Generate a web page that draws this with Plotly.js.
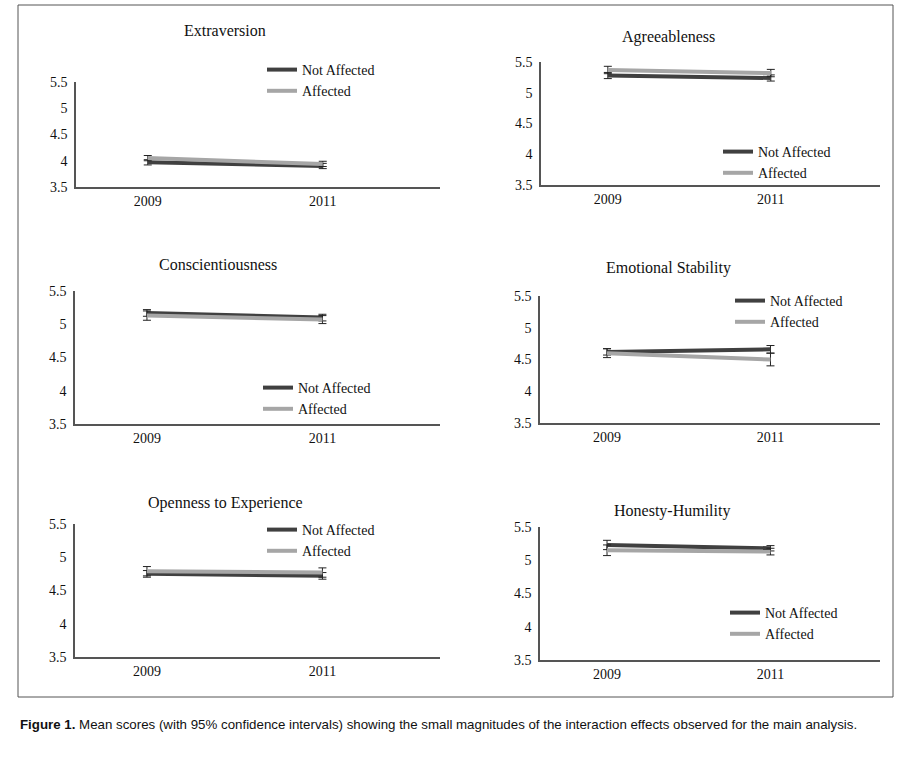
<!DOCTYPE html>
<html><head><meta charset="utf-8">
<script src="https://cdn.plot.ly/plotly-3.0.1.min.js"></script>
<style>body{margin:0;background:#fff}</style>
</head><body>
<div id="myPlot" style="width:903px;height:760px"></div>
<script>
// data
var years = ['2009', '2011']
var traitNames = ['Extraversion', 'Agreeableness', 'Conscientiousness', 'Emotional Stability', 'Openness to Experience', 'Honesty-Humility']
var notAffected = [[3.97, 3.90], [5.28, 5.24], [5.17, 5.10], [4.62, 4.66], [4.75, 4.72], [5.23, 5.18]]
var affected = [[4.05, 3.94], [5.37, 5.32], [5.13, 5.07], [4.60, 4.50], [4.79, 4.77], [5.15, 5.13]]
var ciNotAffected = [[0.05, 0.05], [0.05, 0.05], [0.05, 0.05], [0.05, 0.06], [0.05, 0.05], [0.07, 0.04]]
var ciAffected = [[0.05, 0.05], [0.06, 0.06], [0.07, 0.06], [0.07, 0.10], [0.07, 0.07], [0.08, 0.05]]
var yTicks = [3.5, 4, 4.5, 5, 5.5]
var yTickText = ['3.5', '4', '4.5', '5', '5.5']

// panel geometry in pixels: [x0, x1, yTop, yBottom], title pos, legend pos
var panels = [
    {box: [76, 440, 82, 187], title: [225, 30], leg: [262, 54]},
    {box: [541, 880, 62, 185], title: [668, 37], leg: [718, 136]},
    {box: [75, 440, 291, 424], title: [218, 265], leg: [258, 372]},
    {box: [540, 880, 296, 423], title: [668, 268], leg: [730, 285]},
    {box: [75, 440, 524, 657], title: [225, 503], leg: [262, 514]},
    {box: [540, 880, 527, 660], title: [672, 511], leg: [725, 597]}
]

var W = 903, H = 760
var serif = 'Liberation Serif, Times New Roman, serif'
var data = []
var layout = {
    width: W, height: H,
    margin: {l: 0, r: 0, t: 0, b: 0},
    paper_bgcolor: '#fff', plot_bgcolor: '#fff',
    showlegend: true,
    annotations: [],
    shapes: [{type: 'rect', xref: 'paper', yref: 'paper', x0: 18 / W, x1: 893 / W, y0: 1 - 697 / H, y1: 1 - 5 / H,
        line: {color: '#555', width: 1}}]
}

panels.forEach(function(p, i) {
    var n = i + 1
    var xa = n === 1 ? 'x' : 'x' + n
    var ya = n === 1 ? 'y' : 'y' + n
    var lg = n === 1 ? 'legend' : 'legend' + n
    data.push({
        x: [0, 1], y: notAffected[i], xaxis: xa, yaxis: ya, legend: lg,
        name: 'Not Affected', mode: 'lines', type: 'scatter',
        line: {color: '#404040', width: 4},
        error_y: {type: 'data', array: ciNotAffected[i], color: '#222', thickness: 1, width: 4}
    })
    data.push({
        x: [0, 1], y: affected[i], xaxis: xa, yaxis: ya, legend: lg,
        name: 'Affected', mode: 'lines', type: 'scatter',
        line: {color: '#a6a6a6', width: 4},
        error_y: {type: 'data', array: ciAffected[i], color: '#222', thickness: 1, width: 4}
    })
    var xKey = n === 1 ? 'xaxis' : 'xaxis' + n
    var yKey = n === 1 ? 'yaxis' : 'yaxis' + n
    layout[xKey] = {
        domain: [p.box[0] / W, p.box[1] / W], anchor: ya,
        range: [-0.41, 1.67], tickvals: [0, 1], ticktext: years,
        showgrid: false, zeroline: false, showline: true, linecolor: '#555', linewidth: 1.5,
        ticks: '', tickfont: {family: serif, size: 14, color: '#111'}
    }
    layout[yKey] = {
        domain: [1 - p.box[3] / H, 1 - p.box[2] / H], anchor: xa,
        range: [3.5, 5.5], tickvals: yTicks, ticktext: yTickText,
        showgrid: false, zeroline: false, showline: true, linecolor: '#555', linewidth: 1.5,
        ticks: 'outside', ticklen: 4, tickcolor: '#fff', tickfont: {family: serif, size: 14, color: '#111'}
    }
    layout[lg] = {
        x: p.leg[0] / W, y: 1 - p.leg[1] / H, xanchor: 'left', yanchor: 'top',
        bgcolor: 'rgba(0,0,0,0)', tracegroupgap: 0, itemwidth: 30,
        font: {family: serif, size: 14, color: '#111'}
    }
    layout.annotations.push({
        xref: 'paper', yref: 'paper', x: p.title[0] / W, y: 1 - p.title[1] / H,
        xanchor: 'center', yanchor: 'middle',
        text: traitNames[i], showarrow: false,
        font: {family: serif, size: 16, color: '#111'}
    })
})

layout.annotations.push({
    xref: 'paper', yref: 'paper', x: 18 / W, y: 1 - 724 / H, xanchor: 'left', yanchor: 'middle',
    text: '<b>Figure 1.</b> Mean scores (with 95% confidence intervals) showing the small magnitudes of the interaction effects observed for the main analysis.',
    showarrow: false, font: {family: 'Liberation Sans, Arial, sans-serif', size: 13.3, color: '#111'}
})

Plotly.newPlot('myPlot', data, layout, {displayModeBar: false})
</script>
</body></html>
